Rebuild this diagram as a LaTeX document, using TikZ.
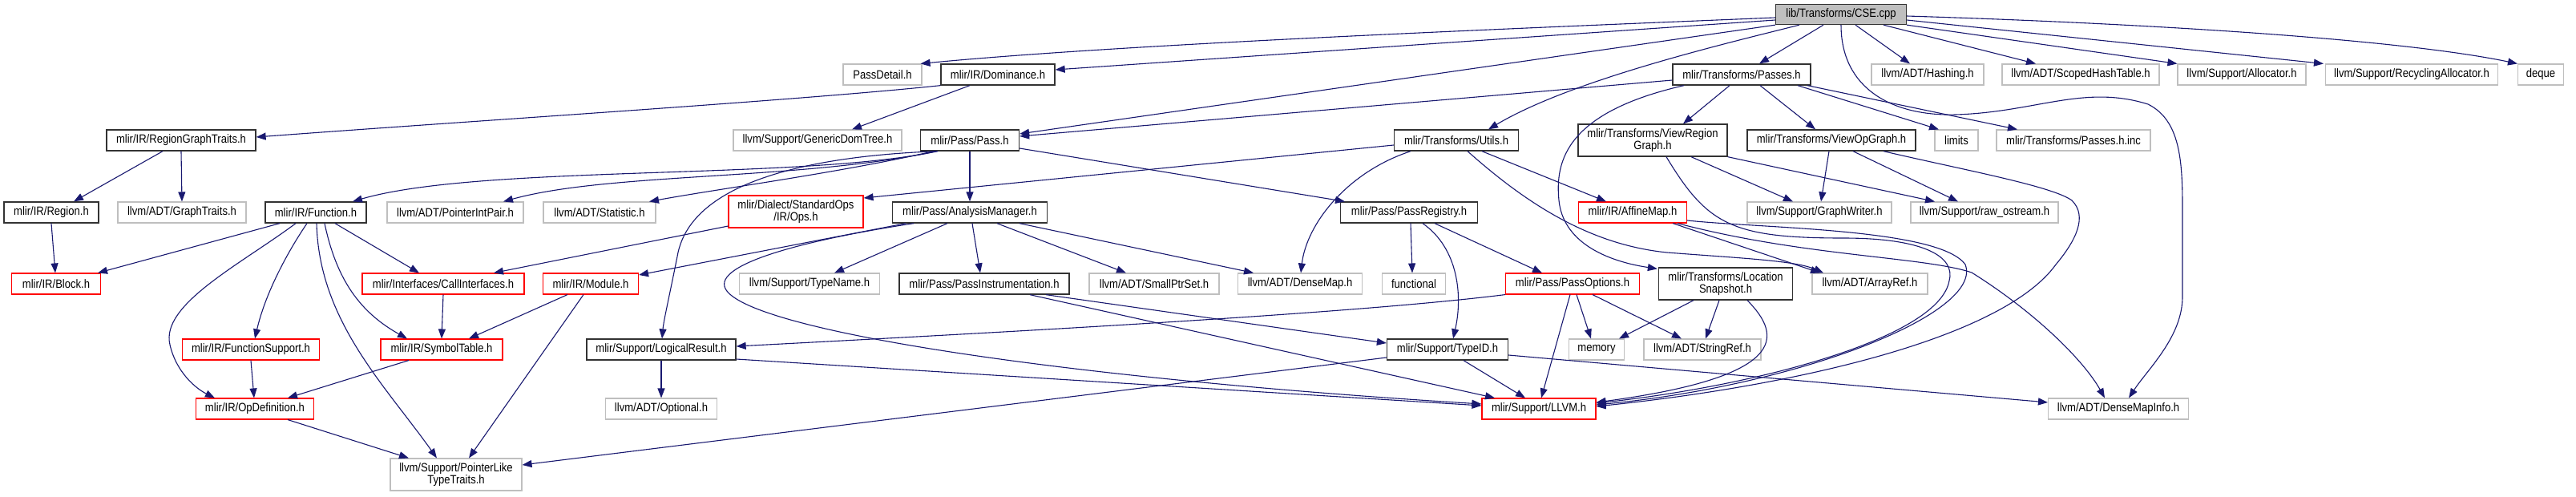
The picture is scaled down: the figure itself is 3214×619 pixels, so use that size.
\documentclass[tikz,border=0pt]{standalone}
\usepackage{fontspec}
\setmainfont{Liberation Sans}[FakeStretch=0.87]
\usetikzlibrary{arrows.meta}
\definecolor{edgec}{HTML}{191970}
\definecolor{docc}{HTML}{333333}
\definecolor{extc}{HTML}{BFBFBF}
\definecolor{redc}{HTML}{FF0000}
\definecolor{csefill}{HTML}{BFBFBF}
\newcommand{\nodefont}{\fontsize{15pt}{15pt}\selectfont}
\tikzset{
  boxbase/.style={draw, inner sep=0pt, minimum height=26pt, font=\nodefont, align=center, fill=white},
  docbox/.style={boxbase, draw=docc, line width=1.3pt},
  extbox/.style={boxbase, draw=extc, line width=1.1pt},
  redbox/.style={boxbase, draw=redc, line width=1.1pt},
  edge/.style={draw=edgec, line width=1.1pt, -{Triangle[length=12pt,width=9pt]}},
}
\begin{document}
\begin{tikzpicture}[x=1pt,y=-1pt]
\useasboundingbox[fill=white] (0,0) rectangle (3214,619);
% row 1
\node[docbox, fill=csefill, draw=docc, minimum width=163pt, minimum height=25pt] (cse) at (2297,18) {lib/Transforms/CSE.cpp};
% row 2
\node[extbox, minimum width=98pt] (passdetail) at (1101,93) {PassDetail.h};
\node[docbox, minimum width=142pt] (dominance) at (1245,93) {mlir/IR/Dominance.h};
\node[docbox, minimum width=172pt] (passes) at (2173,93) {mlir/Transforms/Passes.h};
\node[extbox, minimum width=140pt] (hashing) at (2405,93) {llvm/ADT/Hashing.h};
\node[extbox, minimum width=196pt] (scoped) at (2596,93) {llvm/ADT/ScopedHashTable.h};
\node[extbox, minimum width=160pt] (alloc) at (2797,93) {llvm/Support/Allocator.h};
\node[extbox, minimum width=215pt] (recyc) at (3009,93) {llvm/Support/RecyclingAllocator.h};
\node[extbox, minimum width=57pt] (deque) at (3170,93) {deque};
% row 3
\node[docbox, minimum width=186pt] (rgt) at (226,175) {mlir/IR/RegionGraphTraits.h};
\node[extbox, minimum width=210pt] (gendom) at (1020,175) {llvm/Support/GenericDomTree.h};
\node[docbox, minimum width=123pt] (pass) at (1210,175) {mlir/Pass/Pass.h};
\node[docbox, minimum width=155pt] (utils) at (1817,175) {mlir/Transforms/Utils.h};
\node[docbox, minimum width=186pt, minimum height=40pt] (viewreg) at (2062,175) {mlir/Transforms/ViewRegion\\Graph.h};
\node[docbox, minimum width=210pt] (viewop) at (2285,175) {mlir/Transforms/ViewOpGraph.h};
\node[extbox, minimum width=54pt] (limits) at (2441,175) {limits};
\node[extbox, minimum width=192pt] (passesinc) at (2587,175) {mlir/Transforms/Passes.h.inc};
% row 4
\node[docbox, minimum width=118pt] (region) at (64,265) {mlir/IR/Region.h};
\node[extbox, minimum width=160pt] (graphtraits) at (227,265) {llvm/ADT/GraphTraits.h};
\node[docbox, minimum width=126pt] (function) at (394,265) {mlir/IR/Function.h};
\node[extbox, minimum width=170pt] (ptrintpair) at (568,265) {llvm/ADT/PointerIntPair.h};
\node[extbox, minimum width=140pt] (statistic) at (748,265) {llvm/ADT/Statistic.h};
\node[redbox, minimum width=168pt, minimum height=40pt] (ops) at (993,264) {mlir/Dialect/StandardOps\\/IR/Ops.h};
\node[docbox, minimum width=193pt] (analysis) at (1210,265) {mlir/Pass/AnalysisManager.h};
\node[docbox, minimum width=171pt] (passreg) at (1758,265) {mlir/Pass/PassRegistry.h};
\node[redbox, minimum width=135pt] (affine) at (2037,265) {mlir/IR/AffineMap.h};
\node[extbox, minimum width=180pt] (graphwriter) at (2270,265) {llvm/Support/GraphWriter.h};
\node[extbox, minimum width=184pt] (rawos) at (2476,265) {llvm/Support/raw\_ostream.h};
% row 5
\node[redbox, minimum width=111pt] (block) at (70,354) {mlir/IR/Block.h};
\node[redbox, minimum width=202pt] (callif) at (553,354) {mlir/Interfaces/CallInterfaces.h};
\node[redbox, minimum width=119pt] (module) at (737,354) {mlir/IR/Module.h};
\node[extbox, minimum width=175pt] (typename) at (1010,354) {llvm/Support/TypeName.h};
\node[docbox, minimum width=212pt] (passinstr) at (1228,354) {mlir/Pass/PassInstrumentation.h};
\node[extbox, minimum width=162pt] (smallptr) at (1440,354) {llvm/ADT/SmallPtrSet.h};
\node[extbox, minimum width=155pt] (densemap) at (1622,354) {llvm/ADT/DenseMap.h};
\node[extbox, minimum width=79pt] (functional) at (1764,354) {functional};
\node[redbox, minimum width=167pt] (passopts) at (1962,354) {mlir/Pass/PassOptions.h};
\node[docbox, minimum width=167pt, minimum height=40pt] (locsnap) at (2153,354) {mlir/Transforms/Location\\Snapshot.h};
\node[extbox, minimum width=144pt] (arrayref) at (2333,354) {llvm/ADT/ArrayRef.h};
% row 6
\node[redbox, minimum width=171pt] (funcsupport) at (313,436) {mlir/IR/FunctionSupport.h};
\node[redbox, minimum width=152pt] (symtab) at (551,436) {mlir/IR/SymbolTable.h};
\node[docbox, minimum width=186pt] (logical) at (825,436) {mlir/Support/LogicalResult.h};
\node[docbox, minimum width=151pt] (typeid) at (1806,436) {mlir/Support/TypeID.h};
\node[extbox, minimum width=69pt] (memory) at (1992,436) {memory};
\node[extbox, minimum width=146pt] (stringref) at (2124,436) {llvm/ADT/StringRef.h};
% row 7
\node[redbox, minimum width=147pt] (opdef) at (318,510) {mlir/IR/OpDefinition.h};
\node[extbox, minimum width=139pt] (optional) at (825,510) {llvm/ADT/Optional.h};
\node[redbox, minimum width=142pt] (llvm) at (1920,510) {mlir/Support/LLVM.h};
\node[extbox, minimum width=175pt] (densemapinfo) at (2643,510) {llvm/ADT/DenseMapInfo.h};
% row 8
\node[extbox, minimum width=164pt, minimum height=40pt] (pointerlike) at (569,592) {llvm/Support/PointerLike\\TypeTraits.h};

% ---- edges from CSE.cpp
\draw[edge] ([yshift=-4pt]cse.west) .. controls (1900,35) and (1400,55) .. ([xshift=-2pt]passdetail.north east);
\draw[edge] ([yshift=-7pt]cse.west) -- ([yshift=6pt]dominance.east);
\draw[edge] (cse.south west) -- ([yshift=8pt]pass.east);
\draw[edge] ([xshift=-52pt]cse.south) .. controls (2150,55) and (1960,100) .. ([xshift=40pt]utils.north);
\draw[edge] ([xshift=-22pt]cse.south) -- ([xshift=22pt]passes.north);
\draw[edge] ([xshift=18pt]cse.south) -- ([xshift=-22pt]hashing.north);
\draw[edge] ([xshift=53pt]cse.south) -- ([xshift=-56pt]scoped.north);
\draw[edge] (cse.south east) -- (alloc.north west);
\draw[edge] ([yshift=-7pt]cse.east) -- ([xshift=-2pt]recyc.north west);
\draw[edge] ([yshift=-2pt]cse.east) .. controls (2700,30) and (3000,50) .. (deque.north west);
\draw[edge] (cse.south) .. controls (2297,110) and (2360,145) .. (2440,143) .. controls (2540,140) and (2600,105) .. (2680,130) .. controls (2720,150) and (2723,200) .. (2723,260) -- (2723,370) .. controls (2723,420) and (2680,460) .. ([xshift=13pt]densemapinfo.north);
% ---- Dominance
\draw[edge] (dominance.south west) .. controls (1000,125) and (600,150) .. ([yshift=4pt]rgt.east);
\draw[edge] ([xshift=-35pt]dominance.south) -- ([xshift=43pt]gendom.north);
% ---- RegionGraphTraits / Region
\draw[edge] ([xshift=-23pt]rgt.south) -- ([xshift=28pt]region.north);
\draw[edge] (rgt.south) -- (graphtraits.north);
\draw[edge] (region.south) -- ([xshift=-1pt]block.north);
% ---- Pass.h
\draw[edge] ([xshift=-40pt]pass.south) .. controls (1000,225) and (600,205) .. ([xshift=46pt]function.north);
\draw[edge] ([xshift=-42pt]pass.south) .. controls (1000,225) and (760,215) .. ([xshift=60pt]ptrintpair.north);
\draw[edge] ([xshift=-45pt]pass.south) .. controls (1050,215) and (900,235) .. ([xshift=62pt]statistic.north);
\draw[edge] ([xshift=-40pt]pass.south) .. controls (1000,195) and (860,230) .. (845,320) .. controls (835,370) and (828,400) .. ([xshift=1pt]logical.north);
\draw[edge] (pass.south) -- (analysis.north);
\draw[edge] ([yshift=-10pt]pass.east) -- ([xshift=-80pt]passreg.north);
% ---- Passes.h
\draw[edge] ([yshift=-7pt]passes.west) -- ([yshift=5pt]pass.east);
\draw[edge] ([xshift=-72pt]passes.south) .. controls (1955,140) and (1940,200) .. (1945,250) .. controls (1950,300) and (2000,325) .. ([xshift=-1pt,yshift=-2pt]locsnap.north west);
\draw[edge] ([xshift=-15pt]passes.south) -- ([xshift=38pt]viewreg.north);
\draw[edge] ([xshift=23pt]passes.south) -- ([xshift=-20pt]viewop.north);
\draw[edge] ([xshift=70pt]passes.south) -- ([xshift=-22pt]limits.north);
\draw[edge] ([xshift=82pt]passes.south) -- ([xshift=-70pt]passesinc.north);
% ---- Utils.h
\draw[edge] ([yshift=-6pt]utils.west) -- ([yshift=17pt]ops.east);
\draw[edge] ([xshift=-57pt]utils.south) .. controls (1680,215) and (1630,280) .. ([xshift=1pt]densemap.north);
\draw[edge] ([xshift=32pt]utils.south) -- ([xshift=-33pt]affine.north);
\draw[edge] ([xshift=14pt]utils.south) .. controls (1900,250) and (1980,305) .. (2080,315) .. controls (2170,322) and (2240,325) .. ([xshift=-58pt]arrayref.north);
% ---- ViewRegionGraph / ViewOpGraph
\draw[edge] ([xshift=48pt]viewreg.south) -- ([xshift=-33pt]graphwriter.north);
\draw[edge] (viewreg.south east) -- ([xshift=-62pt]rawos.north);
\draw[edge] ([xshift=17pt]viewreg.south) .. controls (2130,280) and (2160,297) .. (2300,297) .. controls (2400,297) and (2440,320) .. (2432,350) .. controls (2420,420) and (2200,480) .. ([yshift=7pt]llvm.east);
\draw[edge] ([xshift=-3pt]viewop.south) -- ([xshift=2pt]graphwriter.north);
\draw[edge] ([xshift=27pt]viewop.south) -- ([xshift=-33pt]rawos.north);
\draw[edge] ([xshift=65pt]viewop.south) .. controls (2450,212) and (2560,232) .. (2585,250) .. controls (2605,270) and (2590,300) .. (2565,330) .. controls (2500,420) and (2250,480) .. ([yshift=3pt]llvm.east);
% ---- AffineMap
\draw[edge] ([xshift=50pt]affine.south) -- ([xshift=-62pt]arrayref.north);
\draw[edge] ([yshift=-10pt]affine.east) .. controls (2200,285) and (2420,285) .. (2452,330) .. controls (2475,390) and (2250,480) .. ([yshift=5pt]llvm.east);
\draw[edge] ([xshift=56pt]affine.south) .. controls (2250,320) and (2400,320) .. (2460,340) .. controls (2540,390) and (2600,450) .. ([xshift=-17pt]densemapinfo.north);
% ---- PassRegistry
\draw[edge] ([xshift=2pt]passreg.south) -- ([xshift=-2pt]functional.north);
\draw[edge] ([xshift=17pt]passreg.south) .. controls (1820,310) and (1825,370) .. ([xshift=7pt]typeid.north);
\draw[edge] ([xshift=32pt]passreg.south) -- ([xshift=-38pt]passopts.north);
% ---- LocationSnapshot
\draw[edge] ([xshift=-40pt]locsnap.south) -- ([xshift=28pt]memory.north);
\draw[edge] ([xshift=-8pt]locsnap.south) -- ([xshift=4pt]stringref.north);
\draw[edge] ([xshift=27pt]locsnap.south) .. controls (2225,420) and (2230,470) .. ([yshift=8pt]llvm.east);
% ---- PassOptions
\draw[edge] ([xshift=5pt]passopts.south) -- ([xshift=-7pt]memory.north);
\draw[edge] ([xshift=25pt]passopts.south) -- ([xshift=-26pt]stringref.north);
\draw[edge] ([xshift=-3pt]passopts.south) -- ([xshift=3pt]llvm.north);
\draw[edge] (passopts.south west) .. controls (1700,390) and (1300,412) .. ([yshift=4pt]logical.east);
% ---- TypeID
\draw[edge] ([xshift=20pt]typeid.south) -- ([xshift=-17pt]llvm.north);
\draw[edge] ([yshift=-7pt]typeid.east) -- ([yshift=8pt]densemapinfo.west);
\draw[edge] ([yshift=-10pt]typeid.west) -- ([yshift=12pt]pointerlike.east);
% ---- PassInstrumentation
\draw[edge] ([xshift=77pt]passinstr.south) -- ([yshift=8pt]typeid.west);
\draw[edge] ([xshift=57pt]passinstr.south) -- ([xshift=-55pt]llvm.north);
% ---- LogicalResult
\draw[edge] (logical.south) -- (optional.north);
\draw[edge] ([yshift=-12pt]logical.east) -- ([yshift=4pt]llvm.west);
% ---- AnalysisManager
\draw[edge] ([xshift=-70pt]analysis.south) .. controls (1000,300) and (890,330) .. (905,360) .. controls (930,410) and (1300,470) .. ([yshift=6pt]llvm.west);
\draw[edge] ([xshift=-80pt]analysis.south) -- ([yshift=11pt]module.east);
\draw[edge] ([xshift=-28pt]analysis.south) -- ([xshift=31pt]typename.north);
\draw[edge] ([xshift=3pt]analysis.south) -- ([xshift=-5pt]passinstr.north);
\draw[edge] ([xshift=34pt]analysis.south) -- ([xshift=-35pt]smallptr.north);
\draw[edge] ([xshift=62pt]analysis.south) -- ([xshift=-58pt]densemap.north);
% ---- Ops.h
\draw[edge] ([yshift=-18pt]ops.west) -- ([xshift=63pt]callif.north);
% ---- Function.h
\draw[edge] ([xshift=-45pt]function.south) -- ([xshift=52pt]block.north);
\draw[edge] ([xshift=-25pt]function.south) .. controls (300,330) and (200,380) .. (212,430) .. controls (220,465) and (245,485) .. ([xshift=-50pt]opdef.north);
\draw[edge] ([xshift=-11pt]function.south) .. controls (355,320) and (330,370) .. ([xshift=5pt]funcsupport.north);
\draw[edge] ([xshift=1pt]function.south) .. controls (398,400) and (480,480) .. ([xshift=-24pt]pointerlike.north);
\draw[edge] ([xshift=11pt]function.south) .. controls (420,350) and (450,390) .. ([xshift=-43pt]symtab.north);
\draw[edge] ([xshift=24pt]function.south) -- ([xshift=-30pt]callif.north);
% ---- CallInterfaces / Module / FunctionSupport / SymbolTable / OpDefinition
\draw[edge] (callif.south) -- (symtab.north);
\draw[edge] ([xshift=-29pt]module.south) -- ([xshift=34pt]symtab.north);
\draw[edge] ([xshift=-9pt]module.south) -- ([xshift=16pt]pointerlike.north);
\draw[edge] (funcsupport.south) -- ([xshift=-1pt]opdef.north);
\draw[edge] ([xshift=-41pt]symtab.south) -- ([xshift=41pt]opdef.north);
\draw[edge] ([xshift=41pt]opdef.south) -- ([xshift=-59pt]pointerlike.north);
\end{tikzpicture}
\end{document}
